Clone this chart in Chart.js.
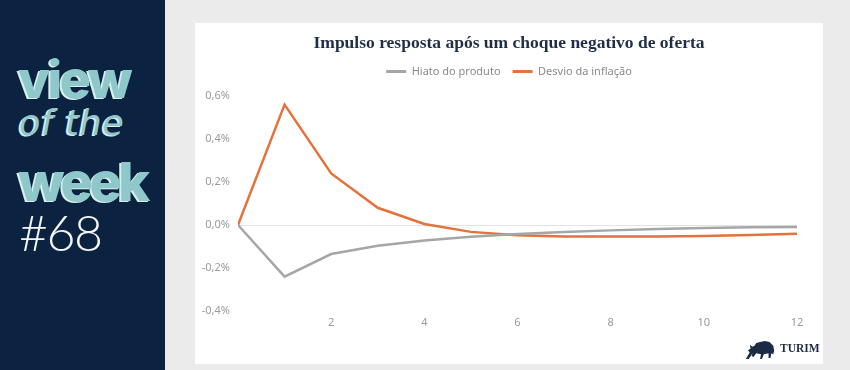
<!DOCTYPE html>
<html>
<head>
<meta charset="utf-8">
<script src="https://cdn.jsdelivr.net/npm/chart.js@4.4.1/dist/chart.umd.min.js"></script>
<style>
  html, body { margin: 0; padding: 0; }
  body { width: 850px; height: 370px; background: #ebebeb; position: relative; overflow: hidden; font-family: "Noto Sans", sans-serif; }
  #side { position: absolute; left: 0; top: 0; width: 165px; height: 370px; background: #0b2340; }
  .big { position: absolute; left: 18px; color: #8fc8ca; font-family: Inter, "Noto Sans", sans-serif; font-weight: 800; letter-spacing: -2.5px; text-shadow: -2px 1px 0 #d9eeee; }
  #v1 { top: 45px; font-size: 52px; line-height: 70px; }
  #v2 { top: 103px; font-size: 35px; line-height: 40px; font-family: "DejaVu Sans", sans-serif; font-style: italic; font-weight: 400; letter-spacing: 0.5px; left: 19px; }
  #v3 { top: 147px; font-size: 54px; line-height: 70px; letter-spacing: -3.5px; }
  #num { position: absolute; left: 19px; top: 202px; font-family: Lato, sans-serif; font-weight: 300; font-size: 50px; line-height: 60px; color: #f4f6f8; letter-spacing: -1.5px; }
  #card { position: absolute; left: 195px; top: 23px; width: 628px; height: 341px; background: #fff; }
  #card canvas { position: absolute; left: 0; top: 0; }
  #logo { position: absolute; left: 745px; top: 339px; width: 32px; height: 21px; }
  #brand { position: absolute; left: 780px; top: 342px; font-family: "Liberation Serif", serif; font-weight: bold; font-size: 11.5px; color: #1b2b43; letter-spacing: 0; }
</style>
</head>
<body>
<div id="side">
  <div class="big" id="v1">view</div>
  <div class="big" id="v2">of the</div>
  <div class="big" id="v3">week</div>
  <div id="num">#68</div>
</div>
<div id="card"><canvas id="irf" width="628" height="341"></canvas></div>
<svg id="logo" viewBox="0 0 34 22">
  <path fill="#1b2b43" d="M1 21 L5 14 L3 12 L6 10 L5 6 L8 8 L10 7 L12 4 L16 3 L21 2 L26 3 L30 7 L31 12 L30 16 L28 15 L27 20 L25 20 L25 15 L20 16 L18 21 L16 21 L17 16 L12 15 L9 19 L7 18 L8 15 L4 21 Z"/>
</svg>
<div id="brand">TURIM</div>
<script>
const periodos = [0, 1, 2, 3, 4, 5, 6, 7, 8, 9, 10, 11, 12];
const hiatoProduto = [0, -0.24, -0.135, -0.097, -0.072, -0.055, -0.042, -0.032, -0.025, -0.019, -0.014, -0.011, -0.009];
const desvioInflacao = [0, 0.56, 0.24, 0.08, 0.005, -0.032, -0.048, -0.053, -0.054, -0.054, -0.051, -0.046, -0.041];
const nomes = ['Hiato do produto', 'Desvio da inflação'];
const cores = ['#a6a6a6', '#e5723a'];

function pontos(vals) {
  return periodos.map((p, i) => ({ x: p, y: vals[i] }));
}

const ctx = document.getElementById('irf').getContext('2d');
new Chart(ctx, {
  type: 'line',
  data: {
    datasets: [
      { label: nomes[0], data: pontos(hiatoProduto), xAxisID: 'x', yAxisID: 'y', borderColor: cores[0], backgroundColor: cores[0], borderWidth: 2.5, pointRadius: 0, tension: 0 },
      { label: nomes[1], data: pontos(desvioInflacao), xAxisID: 'x', yAxisID: 'y', borderColor: cores[1], backgroundColor: cores[1], borderWidth: 2.5, pointRadius: 0, tension: 0 }
    ]
  },
  options: {
    responsive: false,
    devicePixelRatio: 1,
    animation: false,
    layout: { padding: 0 },
    plugins: {
      title: {
        display: true,
        text: 'Impulso resposta após um choque negativo de oferta',
        color: '#1f2d45',
        font: { family: 'Liberation Serif', size: 17.5, weight: 'bold' },
        padding: { top: 10, bottom: 0 }
      },
      legend: {
        display: true,
        labels: {
          color: '#8a8a8a',
          font: { family: 'Noto Sans', size: 11 },
          boxWidth: 20,
          boxHeight: 3,
          padding: 12,
          generateLabels(chart) {
            return Chart.defaults.plugins.legend.labels.generateLabels(chart).map(l => Object.assign(l, { lineWidth: 0 }));
          }
        }
      },
      tooltip: { enabled: false }
    },
    scales: {
      x: {
        type: 'linear',
        min: 0,
        max: 12,
        grid: { display: false, drawTicks: false },
        border: { display: false },
        ticks: {
          stepSize: 2,
          color: '#9a9a9a',
          font: { family: 'Noto Sans', size: 11 },
          padding: 5,
          callback: v => (v === 0 ? '' : String(v))
        },
        afterFit(s) { s.height = 53; }
      },
      topo: {
        type: 'linear',
        position: 'top',
        grid: { display: false },
        border: { display: false },
        ticks: { display: false },
        afterFit(s) { s.height = 9; }
      },
      dir: {
        type: 'linear',
        position: 'right',
        grid: { display: false },
        border: { display: false },
        ticks: { display: false },
        afterFit(s) { s.width = 26; }
      },
      y: {
        min: -0.4,
        max: 0.6,
        grid: {
          drawTicks: false,
          color: c => (c.tick && Math.abs(c.tick.value) < 1e-9 ? '#e3e3e3' : 'rgba(0,0,0,0)')
        },
        border: { display: false },
        ticks: {
          stepSize: 0.2,
          color: '#9a9a9a',
          font: { family: 'Noto Sans', size: 11 },
          padding: 8,
          callback: v => v.toFixed(1).replace('.', ',') + '%'
        },
        afterFit(s) { s.width = 43; }
      }
    }
  }
});
</script>
</body>
</html>
